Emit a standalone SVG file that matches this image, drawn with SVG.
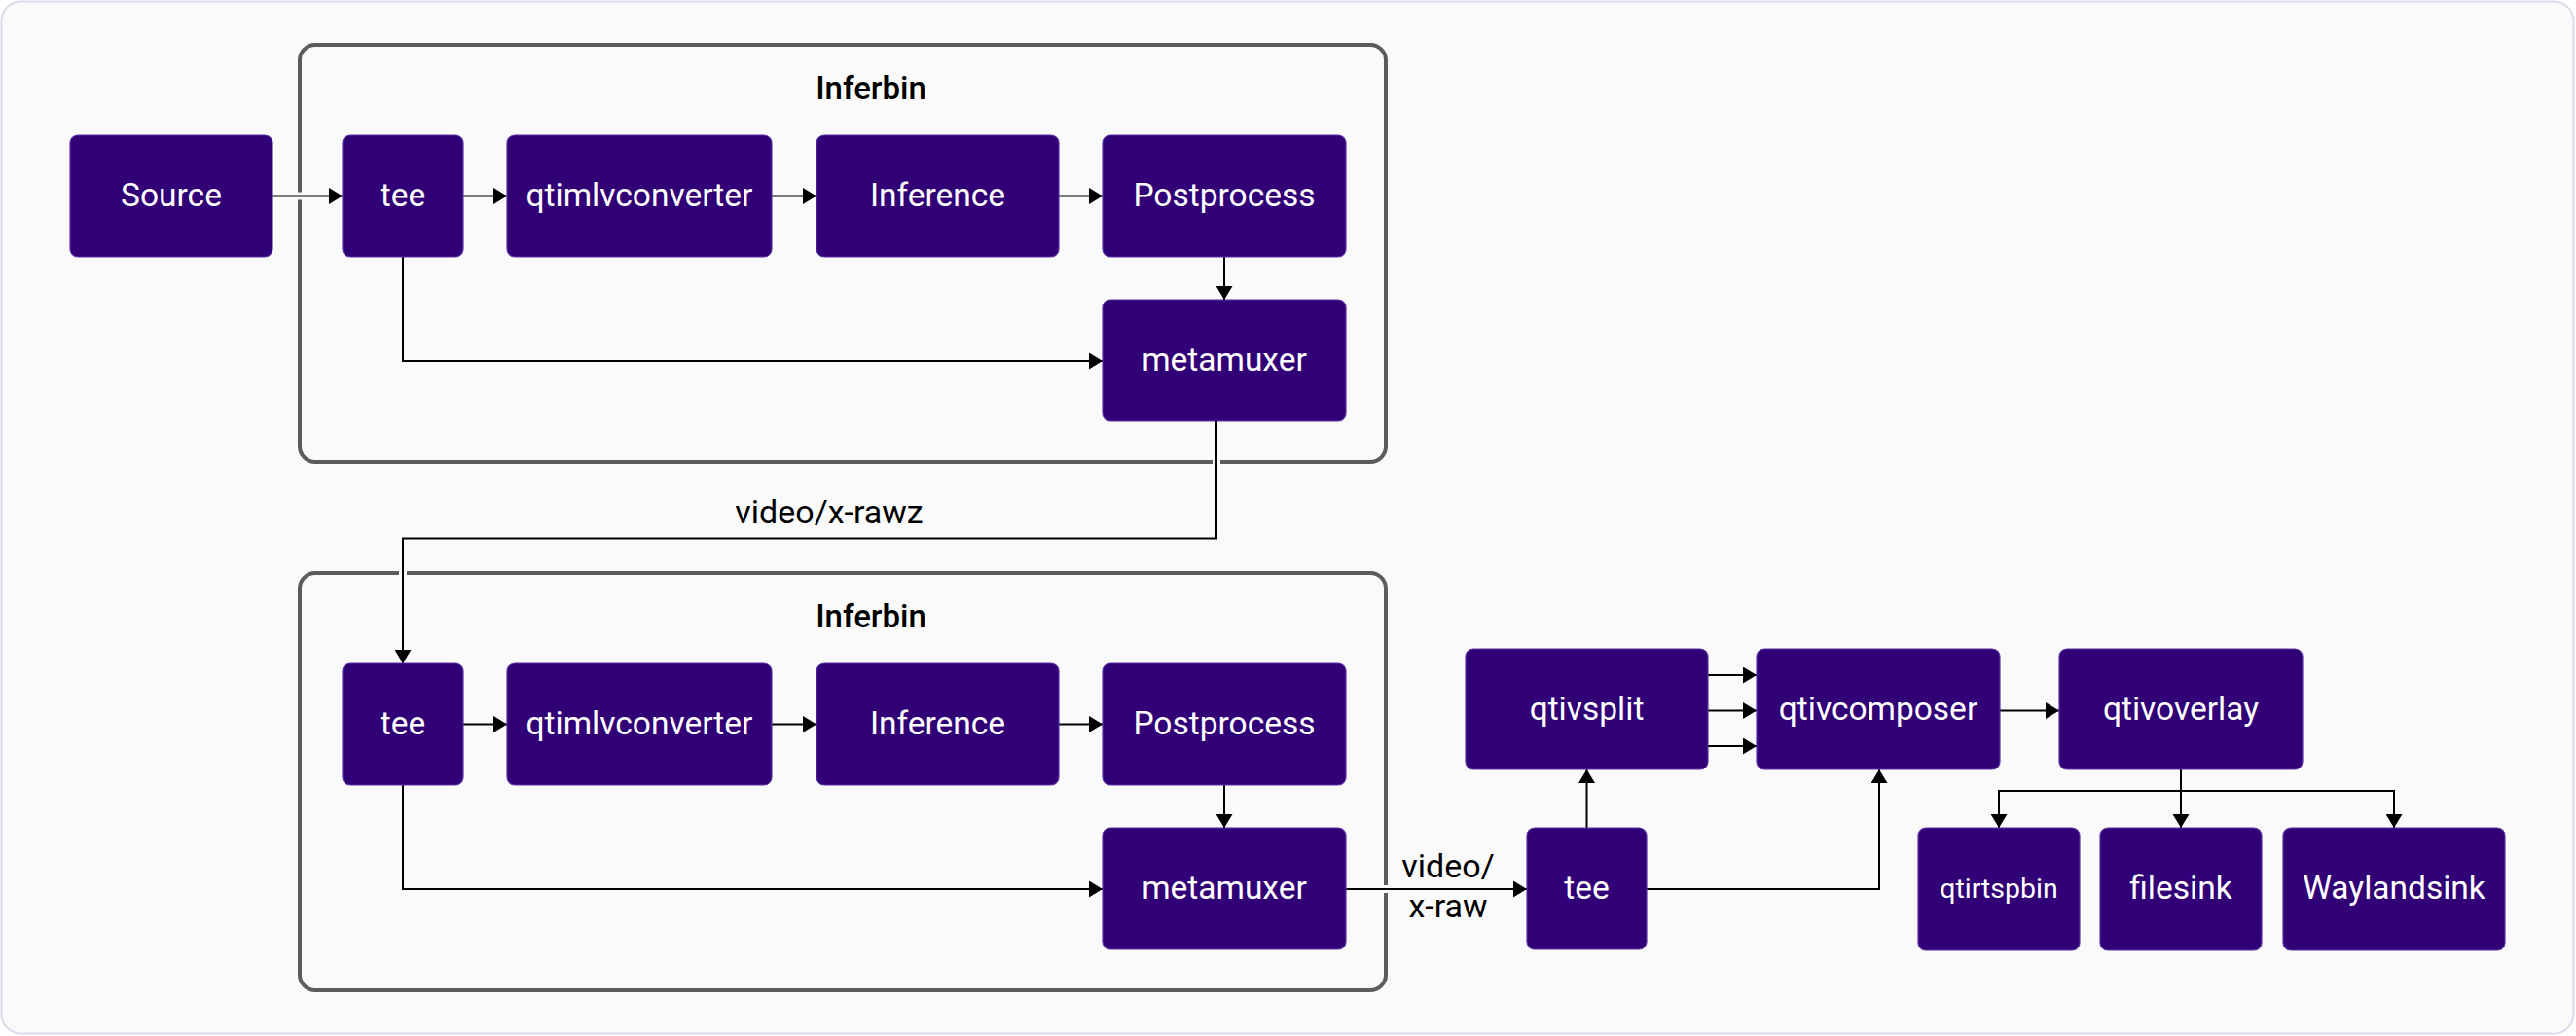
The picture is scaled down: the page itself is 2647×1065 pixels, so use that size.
<svg xmlns="http://www.w3.org/2000/svg" width="2647" height="1065" viewBox="0 0 2647 1065">
<defs>
<marker id="arr" viewBox="0 0 14 17" refX="14" refY="8.5" markerWidth="14" markerHeight="17" markerUnits="userSpaceOnUse" orient="auto">
<path d="M0,0 L14,8.5 L0,17 Z" fill="#000"/>
</marker>
<style>
.node rect{fill:#310077;stroke:#5a33a0;stroke-width:1.2}
.node text{fill:#fff;font-family:Roboto,"Liberation Sans",sans-serif;font-size:33.5px;text-anchor:middle}
.node text.sm{font-size:28.5px}
.cont{fill:none;stroke:#5c5c5c;stroke-width:4}
.title{fill:#000;font-family:Roboto,"Liberation Sans",sans-serif;font-size:33px;font-weight:500;text-anchor:middle}
.lbl{fill:#000;font-family:Roboto,"Liberation Sans",sans-serif;font-size:34px;text-anchor:middle}
.halo path{fill:none;stroke:#fafafa;stroke-width:8}
.lines path{fill:none;stroke:#000;stroke-width:2;marker-end:url(#arr)}
</style>
</defs>
<rect x="0" y="0" width="2647" height="1065" fill="#ffffff"/>
<rect x="1.5" y="1.5" width="2643" height="1061" rx="20" fill="#fafafa" stroke="#d8dcea" stroke-width="2"/>

<g id="inferbin1">
<rect class="cont" x="308" y="46" width="1116" height="429" rx="16"/>
<text class="title" x="895" y="102">Inferbin</text>
</g>
<g id="inferbin2">
<rect class="cont" x="308" y="589" width="1116" height="429" rx="16"/>
<text class="title" x="895" y="645">Inferbin</text>
</g>

<g id="connectors">
<g class="halo">
<path d="M280,201.5 H352"/>
<path d="M1250,433 V553.5 H414 V682"/>
<path d="M1383,914 H1569"/>
</g>
<g class="lines">
<path d="M280,201.5 H352"/>
<path d="M476,201.5 H521"/>
<path d="M793,201.5 H839"/>
<path d="M1088,201.5 H1133"/>
<path d="M1258,264 V308"/>
<path d="M414,264 V371 H1133"/>
<path d="M1250,433 V553.5 H414 V682"/>
<path d="M476,744.5 H521"/>
<path d="M793,744.5 H839"/>
<path d="M1088,744.5 H1133"/>
<path d="M1258,807 V851"/>
<path d="M414,807 V914 H1133"/>
<path d="M1383,914 H1569"/>
<path d="M1630.5,851 V791"/>
<path d="M1692,914 H1931 V791"/>
<path d="M1755,694 H1805"/>
<path d="M1755,730.5 H1805"/>
<path d="M1755,767 H1805"/>
<path d="M2055,730.5 H2116"/>
<path d="M2241,791 V851"/>
<path d="M2241,813 H2054 V851"/>
<path d="M2241,813 H2460 V851"/>
</g>
<text class="lbl" x="852" y="538">video/x-rawz</text>
<text class="lbl" x="1488" y="902">video/</text>
<text class="lbl" x="1488" y="943">x-raw</text>
</g>

<g id="source" class="node"><rect x="72" y="139" width="208" height="125" rx="8"/><text x="176" y="212">Source</text></g>
<g id="tee1" class="node"><rect x="352" y="139" width="124" height="125" rx="8"/><text x="414" y="212">tee</text></g>
<g id="qtimlvconverter1" class="node"><rect x="521" y="139" width="272" height="125" rx="8"/><text x="657" y="212">qtimlvconverter</text></g>
<g id="inference1" class="node"><rect x="839" y="139" width="249" height="125" rx="8"/><text x="963.5" y="212">Inference</text></g>
<g id="postprocess1" class="node"><rect x="1133" y="139" width="250" height="125" rx="8"/><text x="1258" y="212">Postprocess</text></g>
<g id="metamuxer1" class="node"><rect x="1133" y="308" width="250" height="125" rx="8"/><text x="1258" y="381">metamuxer</text></g>

<g id="tee2" class="node"><rect x="352" y="682" width="124" height="125" rx="8"/><text x="414" y="755">tee</text></g>
<g id="qtimlvconverter2" class="node"><rect x="521" y="682" width="272" height="125" rx="8"/><text x="657" y="755">qtimlvconverter</text></g>
<g id="inference2" class="node"><rect x="839" y="682" width="249" height="125" rx="8"/><text x="963.5" y="755">Inference</text></g>
<g id="postprocess2" class="node"><rect x="1133" y="682" width="250" height="125" rx="8"/><text x="1258" y="755">Postprocess</text></g>
<g id="metamuxer2" class="node"><rect x="1133" y="851" width="250" height="125" rx="8"/><text x="1258" y="924">metamuxer</text></g>

<g id="qtivsplit" class="node"><rect x="1506" y="667" width="249" height="124" rx="8"/><text x="1630.5" y="740">qtivsplit</text></g>
<g id="tee3" class="node"><rect x="1569" y="851" width="123" height="125" rx="8"/><text x="1630.5" y="924">tee</text></g>
<g id="qtivcomposer" class="node"><rect x="1805" y="667" width="250" height="124" rx="8"/><text x="1930" y="740">qtivcomposer</text></g>
<g id="qtivoverlay" class="node"><rect x="2116" y="667" width="250" height="124" rx="8"/><text x="2241" y="740">qtivoverlay</text></g>
<g id="qtirtspbin" class="node"><rect x="1971" y="851" width="166" height="126" rx="8"/><text class="sm" x="2054" y="923">qtirtspbin</text></g>
<g id="filesink" class="node"><rect x="2158" y="851" width="166" height="126" rx="8"/><text x="2241" y="924">filesink</text></g>
<g id="waylandsink" class="node"><rect x="2346" y="851" width="228" height="126" rx="8"/><text x="2460" y="924">Waylandsink</text></g>
</svg>
